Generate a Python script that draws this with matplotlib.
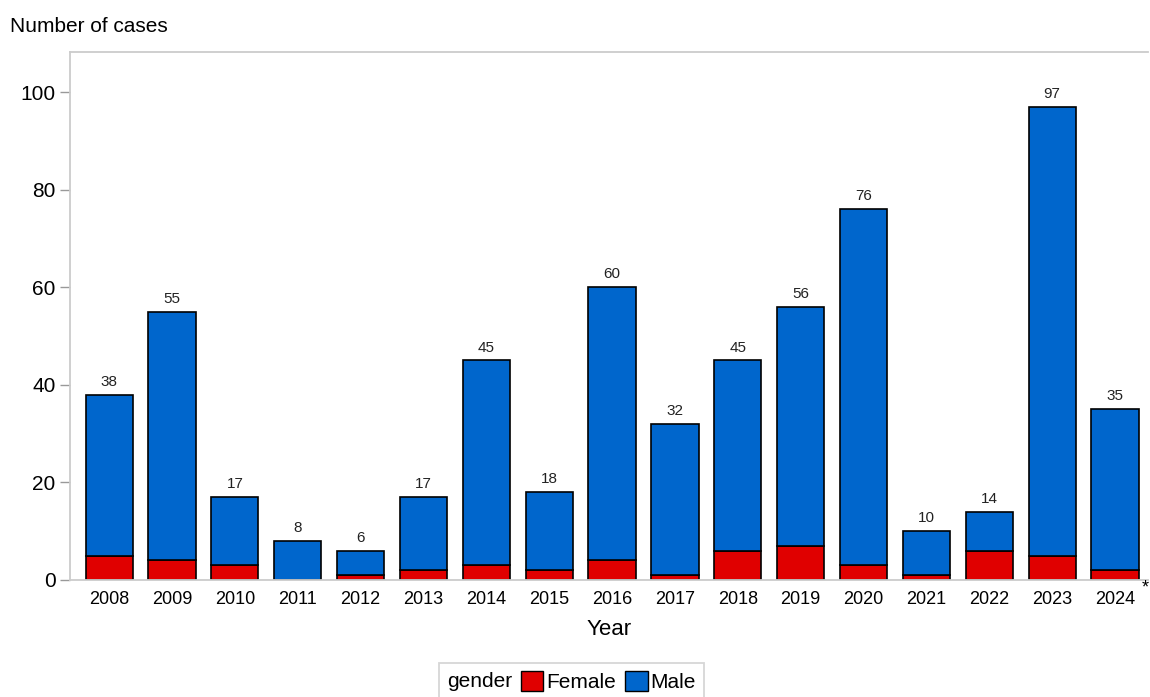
import numpy as np
import matplotlib.pyplot as plt
from matplotlib.patches import Patch
from matplotlib.offsetbox import HPacker

years = ['2008', '2009', '2010', '2011', '2012', '2013', '2014', '2015', '2016',
         '2017', '2018', '2019', '2020', '2021', '2022', '2023', '2024']
totals = [38, 55, 17, 8, 6, 17, 45, 18, 60, 32, 45, 56, 76, 10, 14, 97, 35]
female = [5, 4, 3, 0, 1, 2, 3, 2, 4, 1, 6, 7, 3, 1, 6, 5, 2]
male = [t - f for t, f in zip(totals, female)]

red = '#e00000'
blue = '#0066cc'
grey = '#cccccc'

plt.rcParams['font.family'] = ['Liberation Sans', 'DejaVu Sans']

fig = plt.figure(figsize=(11.5, 6.97), dpi=100)
ax = fig.add_axes([0.061, 0.168, 0.937, 0.757])

x = np.arange(len(years))
ax.bar(x, female, width=0.75, color=red, edgecolor='black', linewidth=1.2)
ax.bar(x, male, width=0.75, bottom=female, color=blue, edgecolor='black', linewidth=1.2)

# totals above bars
for i, t in enumerate(totals):
    ax.text(x[i], t + 1.2, str(t), ha='center', va='bottom', fontsize=11, color='#222222')

ax.set_xlim(-0.62, 16.52)
ax.set_ylim(0, 108.2)
ax.set_yticks([0, 20, 40, 60, 80, 100])
ax.set_xticks(x)
ax.set_xticklabels(years, fontsize=13)
ax.tick_params(axis='y', labelsize=15, length=7, color='#999999', width=1)
ax.tick_params(axis='x', length=0, pad=8)

for s in ['left', 'top', 'bottom']:
    ax.spines[s].set_color(grey)
    ax.spines[s].set_linewidth(1.3)
ax.spines['right'].set_visible(False)

ax.text(16.43, -1.7, '*', fontsize=13, ha='left', va='center')

ax.set_xlabel('Year', fontsize=16, labelpad=8)
fig.text(0.009, 0.962, 'Number of cases', fontsize=15, ha='left', va='center')

handles = [Patch(facecolor=red, edgecolor='black', label='Female'),
           Patch(facecolor=blue, edgecolor='black', label='Male')]
leg = fig.legend(handles=handles, loc='lower center', bbox_to_anchor=(0.497, -0.02),
                 ncol=2, title='gender', fontsize=15, title_fontsize=15,
                 frameon=True, fancybox=False, handlelength=1.1, handleheight=1.1,
                 handletextpad=0.15, columnspacing=0.4, borderpad=0.4)
leg.get_frame().set_edgecolor(grey)
leg.get_frame().set_linewidth(1.3)
# title to the left of the entries
title_box = leg._legend_title_box
box = leg._legend_box
box._children = [HPacker(children=[title_box] + list(box._children[1:]), pad=0, sep=6, align='center')]

fig.savefig('out.png', dpi=100)
